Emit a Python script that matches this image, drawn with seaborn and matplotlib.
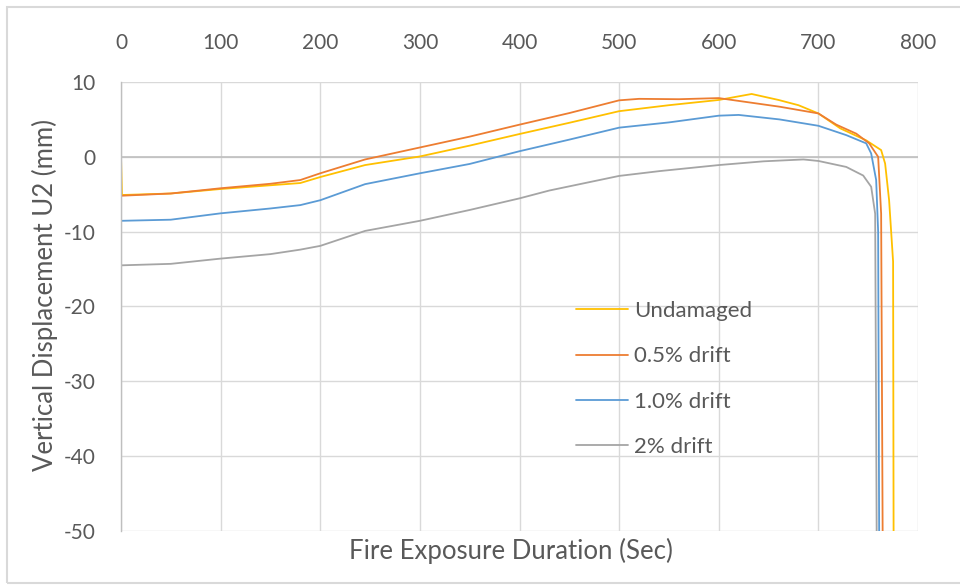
import matplotlib
matplotlib.use("Agg")
import matplotlib.pyplot as plt
import seaborn as sns
import pandas as pd
from matplotlib.patches import Rectangle

# Fire exposure time (s) and vertical displacement U2 (mm) for each damage level
t_undamaged = [0, 1, 50, 100, 150, 180, 200, 245, 300, 350, 400, 450, 500, 550, 600,
               633, 660, 680, 700, 722, 748, 763, 767, 771, 775, 775.5]
u_undamaged = [0, -5.1, -4.9, -4.3, -3.8, -3.5, -2.7, -1.1, 0.05, 1.5, 3.05, 4.55, 6.1,
               6.9, 7.6, 8.4, 7.6, 6.9, 5.8, 3.8, 2.2, 0.9, -0.9, -5.8, -14, -50]

t_drift05 = [0, 50, 100, 150, 180, 200, 245, 300, 350, 400, 450, 500, 520, 560, 600,
             661, 700, 718, 738, 751, 760, 763, 764.5]
u_drift05 = [-5.2, -4.9, -4.2, -3.6, -3.1, -2.2, -0.35, 1.25, 2.7, 4.3, 5.85, 7.55, 7.75,
             7.7, 7.85, 6.7, 5.8, 4.3, 3.1, 1.8, 0, -7.6, -50]

t_drift10 = [0, 50, 100, 150, 180, 200, 245, 300, 350, 400, 450, 500, 550, 600, 620,
             661, 700, 728, 748, 753, 758, 760, 761]
u_drift10 = [-8.55, -8.4, -7.55, -6.9, -6.45, -5.8, -3.65, -2.2, -0.95, 0.75, 2.3, 3.9,
             4.6, 5.5, 5.6, 5.0, 4.15, 2.9, 1.8, 0.45, -3.1, -10, -50]

t_drift20 = [0, 50, 100, 150, 180, 200, 245, 300, 350, 400, 430, 500, 541, 600, 645,
             685, 700, 728, 745, 753, 757, 758.5]
u_drift20 = [-14.5, -14.3, -13.6, -13.0, -12.4, -11.9, -9.9, -8.55, -7.1, -5.55, -4.5,
             -2.55, -1.9, -1.1, -0.6, -0.35, -0.55, -1.35, -2.5, -4.0, -7.6, -50]

series_names = ["Undamaged", "0.5% drift", "1.0% drift", "2% drift"]
series_colors = ["#FFC000", "#ED7D31", "#5B9BD5", "#A5A5A5"]

x_ticks = [0, 100, 200, 300, 400, 500, 600, 700, 800]
y_ticks = [-50, -40, -30, -20, -10, 0, 10]

frames = []
for name, t, u in zip(series_names,
                      [t_undamaged, t_drift05, t_drift10, t_drift20],
                      [u_undamaged, u_drift05, u_drift10, u_drift20]):
    frames.append(pd.DataFrame({"t": t, "u": u, "series": name}))
df = pd.concat(frames, ignore_index=True)

sns.set_theme(style="white")
plt.rcParams["font.family"] = ["Lato", "DejaVu Sans"]
plt.rcParams["axes.unicode_minus"] = False
text_color = "#595959"

fig = plt.figure(figsize=(9.6, 5.85), dpi=100)
ax = fig.add_axes([121 / 960, 1 - 531 / 585, (918 - 121) / 960, (531 - 82) / 585])

# chart-area frame
fig.patches.append(Rectangle((7 / 960, 2 / 585), 1.2, 1 - 9 / 585,
                             transform=fig.transFigure, fill=False,
                             edgecolor="#D9D9D9", linewidth=1.5, zorder=0))

sns.lineplot(data=df, x="t", y="u", hue="series", hue_order=series_names,
             palette=series_colors, sort=False, estimator=None, linewidth=1.3,
             ax=ax, legend=False)

ax.set_xlim(0, 800)
ax.set_ylim(-50, 10)
ax.set_xticks(x_ticks)
ax.set_yticks(y_ticks)
ax.xaxis.tick_top()
ax.tick_params(axis="x", length=0, pad=21, labelsize=15, labelcolor=text_color)
ax.tick_params(axis="y", length=0, pad=18, labelsize=15, labelcolor=text_color)

ax.grid(True, color="#D9D9D9", linewidth=1.0)
ax.set_axisbelow(True)
for side in ["top", "right", "bottom"]:
    ax.spines[side].set_visible(False)
ax.spines["left"].set_color("#BFBFBF")
ax.spines["left"].set_linewidth(1.0)
ax.axhline(0, color="#BFBFBF", linewidth=1.2, zorder=1)

ax.set_xlabel("")
ax.set_ylabel("")
fig.text(511 / 960, 1 - 551 / 585, "Fire Exposure Duration (Sec)", ha="center",
         va="center", fontsize=18.5, color=text_color)
fig.text(45 / 960, 1 - 295 / 585, "Vertical Displacement U2 (mm)", ha="center",
         va="center", rotation=90, fontsize=18.5, color=text_color)

handles = [plt.Line2D([], [], color=c, linewidth=1.3) for c in series_colors]
leg = ax.legend(handles, series_names, loc="upper left",
                bbox_to_anchor=((576 - 121) / (918 - 121), (531 - 301) / (531 - 82)),
                frameon=False, fontsize=16, handlelength=2.35, handletextpad=0.27,
                labelspacing=1.14, borderaxespad=0, borderpad=0)
for txt in leg.get_texts():
    txt.set_color(text_color)

fig.savefig("out.png", dpi=100, facecolor="white")
